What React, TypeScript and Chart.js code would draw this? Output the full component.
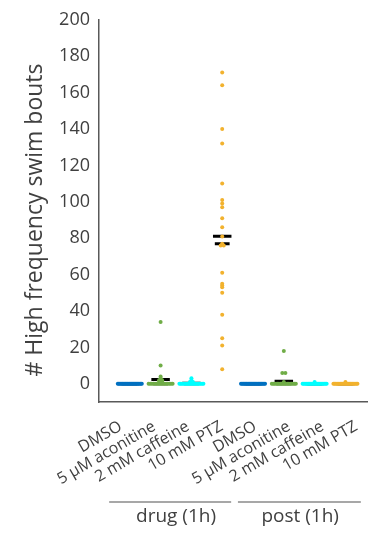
import React, { useEffect, useRef } from 'react';
import { Chart, registerables } from 'chart.js';

Chart.register(...registerables);

const categories = ['DMSO', '5 μM aconitine', '2 mM caffeine', '10 mM PTZ', 'DMSO', '5 μM aconitine', '2 mM caffeine', '10 mM PTZ'];
const phaseLabels = ['drug (1h)', 'post (1h)'];
const yTickValues = [0, 20, 40, 60, 80, 100, 120, 140, 160, 180, 200];
const groupColors = ['#0070C0', '#70AD47', '#00FFFF', '#F2B22E', '#0070C0', '#70AD47', '#00FFFF', '#F2B22E'];

const dmsoDrug = [0, 0, 0, 0, 0, 0, 0, 0, 0, 0, 0, 0, 0, 0, 0, 0, 0, 0, 0, 0, 0, 0, 0, 0];
const aconitineDrug = [34, 10, 4, 3, 2, 2, 1, 1, 0, 0, 0, 0, 0, 0, 0, 0, 0, 0, 0, 0, 0, 0, 0, 0];
const caffeineDrug = [3, 2, 1, 1, 0, 0, 0, 0, 0, 0, 0, 0, 0, 0, 0, 0, 0, 0, 0, 0, 0, 0, 0, 0];
const ptzDrug = [171, 164, 140, 132, 110, 101, 99, 97, 91, 86, 81, 77, 76, 76, 61, 55, 54, 53, 50, 38, 25, 21, 8];
const dmsoPost = [0, 0, 0, 0, 0, 0, 0, 0, 0, 0, 0, 0, 0, 0, 0, 0, 0, 0, 0, 0, 0, 0, 0, 0];
const aconitinePost = [18, 6, 6, 1, 0, 0, 0, 0, 0, 0, 0, 0, 0, 0, 0, 0, 0, 0, 0, 0, 0, 0];
const caffeinePost = [1, 0, 0, 0, 0, 0, 0, 0, 0, 0, 0, 0, 0, 0, 0, 0, 0, 0, 0, 0, 0, 0, 0];
const ptzPost = [1, 0, 0, 0, 0, 0, 0, 0, 0, 0, 0, 0, 0, 0, 0, 0, 0, 0, 0, 0, 0, 0, 0];

const series = [dmsoDrug, aconitineDrug, caffeineDrug, ptzDrug, dmsoPost, aconitinePost, caffeinePost, ptzPost];

const FONT = '"Open Sans", "DejaVu Sans", sans-serif';
const TEXT = '#404040';

function swarm(values: number[], center: number) {
  const counts = new Map<number, number>();
  values.forEach((v) => counts.set(v, (counts.get(v) || 0) + 1));
  const used = new Map<number, number>();
  return values.map((v) => {
    const k = counts.get(v) || 1;
    const j = used.get(v) || 0;
    used.set(v, j + 1);
    const step = k > 1 ? Math.min(0.1, 0.78 / (k - 1)) : 0;
    return { x: center + (j - (k - 1) / 2) * step, y: v };
  });
}

function mean(a: number[]) {
  return a.reduce((s, v) => s + v, 0) / a.length;
}
function median(a: number[]) {
  const s = [...a].sort((p, q) => p - q);
  const m = Math.floor(s.length / 2);
  return s.length % 2 ? s[m] : (s[m - 1] + s[m]) / 2;
}

const decorPlugin = {
  id: 'decor',
  afterDraw(chart: any) {
    const ctx = chart.ctx;
    const xs = chart.scales.x;
    ctx.save();
    ctx.translate(35, 220);
    ctx.rotate(-Math.PI / 2);
    ctx.font = `23px ${FONT}`;
    ctx.fillStyle = TEXT;
    ctx.textAlign = 'center';
    ctx.textBaseline = 'middle';
    ctx.fillText('# High frequency swim bouts', 0, 0);
    ctx.restore();

    const spans = [
      [-0.67, 3.29, 1.5],
      [3.51, 7.5, 5.53],
    ];
    ctx.save();
    ctx.strokeStyle = '#505050';
    ctx.lineWidth = 1.2;
    ctx.fillStyle = TEXT;
    ctx.font = `19px ${FONT}`;
    ctx.textAlign = 'center';
    ctx.textBaseline = 'middle';
    spans.forEach((s, i) => {
      const x0 = xs.getPixelForValue(s[0]);
      const x1 = xs.getPixelForValue(s[1]);
      ctx.beginPath();
      ctx.moveTo(x0, 502);
      ctx.lineTo(x1, 502);
      ctx.stroke();
      ctx.fillText(phaseLabels[i], xs.getPixelForValue(s[2]), 517);
    });
    ctx.restore();
  },
};

export default function App() {
  const ref = useRef<HTMLCanvasElement | null>(null);
  useEffect(() => {
    if (!ref.current) return;
    const datasets: any[] = [];
    series.forEach((vals, i) => {
      const m = mean(vals);
      const md = median(vals);
      datasets.push({
        data: [{ x: i - 0.3, y: m }, { x: i + 0.3, y: m }],
        showLine: true,
        borderColor: '#000',
        borderWidth: 3,
        pointRadius: 0,
        order: 3,
      });
      datasets.push({
        data: [{ x: i - 0.24, y: md }, { x: i + 0.24, y: md }],
        showLine: true,
        borderColor: '#000',
        borderWidth: 3,
        pointRadius: 0,
        order: 3,
      });
      datasets.push({
        data: swarm(vals, i),
        showLine: false,
        pointRadius: 2,
        pointBorderWidth: 0,
        pointBackgroundColor: groupColors[i],
        pointBorderColor: groupColors[i],
        order: 1,
      });
    });
    const chart = new Chart(ref.current, {
      type: 'scatter',
      data: { datasets },
      options: {
        animation: false,
        responsive: true,
        maintainAspectRatio: false,
        layout: { padding: { top: 15, right: 0, bottom: 0, left: 0 } },
        plugins: { legend: { display: false }, tooltip: { enabled: false } },
        scales: {
          x: {
            type: 'linear',
            min: -1,
            max: 7.7,
            grid: { display: false, drawTicks: false },
            border: { display: true, color: '#595959', width: 1.5 },
            afterBuildTicks: (scale: any) => {
              scale.ticks = [];
            },
            afterFit: (scale: any) => {
              scale.height = 0;
              scale.paddingLeft = 0;
              scale.paddingRight = 0;
            },
            ticks: { display: false },
          },
          xl: {
            type: 'linear',
            position: 'bottom',
            min: -0.645,
            max: 7.32,
            grid: { display: false, drawTicks: false },
            border: { display: false },
            afterBuildTicks: (scale: any) => {
              scale.ticks = categories.map((_, i) => ({ value: i }));
            },
            afterFit: (scale: any) => {
              scale.height = 131;
              scale.paddingLeft = 0;
              scale.paddingRight = 0;
            },
            ticks: {
              autoSkip: false,
              minRotation: 30,
              maxRotation: 30,
              padding: 15,
              color: TEXT,
              font: { family: FONT, size: 16 },
              callback: (v: any) => categories[v as number],
            },
          },
          y: {
            min: -10,
            max: 200,
            grid: { display: false, drawTicks: false },
            border: { display: true, color: '#595959', width: 1.5 },
            afterBuildTicks: (scale: any) => {
              scale.ticks = yTickValues.map((v) => ({ value: v }));
            },
            afterFit: (scale: any) => {
              scale.width = 99;
            },
            ticks: {
              padding: 9,
              color: TEXT,
              font: { family: FONT, size: 18 },
            },
          },
        },
      },
      plugins: [decorPlugin],
    });
    return () => chart.destroy();
  }, []);
  return (
    <div style={{ position: 'fixed', left: 0, top: 0, width: 371, height: 533, background: '#fff' }}>
      <canvas ref={ref} />
    </div>
  );
}
